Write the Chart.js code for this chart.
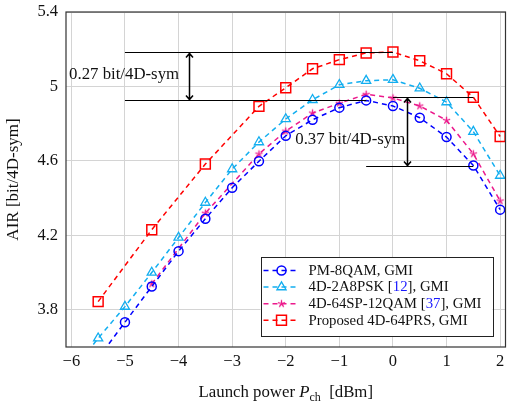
<!DOCTYPE html>
<html><head><meta charset="utf-8">
<script src="https://cdn.jsdelivr.net/npm/chart.js@4/dist/chart.umd.min.js"></script>
<style>html,body{margin:0;padding:0;background:#fff}#wrap{width:514px;height:408px;position:relative}</style>
</head><body><div id="wrap"><canvas id="c" width="514" height="408"></canvas></div>
<script>
// ---- data ----
const xTicks = [-6, -5, -4, -3, -2, -1, 0, 1, 2];
const yTicks = [3.8, 4.2, 4.6, 5, 5.4];

const pmX  = [-5.5, -5, -4.5, -4, -3.5, -3, -2.5, -2, -1.5, -1, -0.5, 0, 0.5, 1, 1.5, 2];
const pmY  = [3.54, 3.733, 3.925, 4.115, 4.289, 4.456, 4.598, 4.735, 4.821, 4.886, 4.925, 4.895, 4.832, 4.728, 4.575, 4.338];

const a8X  = [-6, -5.5, -5, -4.5, -4, -3.5, -3, -2.5, -2, -1.5, -1, -0.5, 0, 0.5, 1, 1.5, 2];
const a8Y  = [3.46, 3.647, 3.817, 4.0, 4.188, 4.376, 4.556, 4.701, 4.825, 4.928, 5.009, 5.031, 5.036, 4.99, 4.916, 4.757, 4.521];

const spX  = [-4.5, -3.5, -2.5, -2, -1.5, -1, -0.5, 0, 0.5, 1, 1.5, 2];
const spY  = [3.939, 4.319, 4.637, 4.76, 4.857, 4.91, 4.958, 4.938, 4.895, 4.818, 4.638, 4.385];

const prsX = [-5.5, -4.5, -3.5, -2.5, -2, -1.5, -1, -0.5, 0, 0.5, 1, 1.5, 2];
const prsY = [3.844, 4.23, 4.583, 4.893, 4.993, 5.095, 5.144, 5.18, 5.185, 5.138, 5.068, 4.942, 4.731];

const seriesLabels = ['PM-8QAM, GMI', '4D-2A8PSK [12], GMI', '4D-64SP-12QAM [37], GMI', 'Proposed 4D-64PRS, GMI'];

// annotations: gap markers (values in data units)
const gapLabels = ['0.27 bit/4D-sym', '0.37 bit/4D-sym'];
const gapTop    = [5.185, 4.942];
const gapBottom = [4.925, 4.575];
const gapArrowX = [-3.8, 0.26];
const gapTopSpan    = [[-5, 0], [0, 1.5]];
const gapBottomSpan = [[-5, -0.5], [-0.5, 1.5]];
const gapTextAt = [[-3.99, 5.062], [0.23, 4.712]];

// ---- styles ----
const SERIF = '"Liberation Serif", "Times New Roman", serif';
const colBlue = '#0000ff', colCyan = '#12aef0', colMag = '#ec1a8c', colRed = '#ff0000';

function starImage(color) {
  const s = 11, c = document.createElement('canvas');
  c.width = s; c.height = s;
  const g = c.getContext('2d');
  g.strokeStyle = color; g.lineWidth = 1.3; g.lineCap = 'butt';
  const r = 3.8, cx = s / 2, cy = s / 2;
  g.beginPath();
  for (let k = 0; k < 5; k++) {
    const a = (90 + 72 * k) * Math.PI / 180;
    g.moveTo(cx, cy);
    g.lineTo(cx + r * Math.cos(a), cy - r * Math.sin(a));
  }
  g.stroke();
  return c;
}
const magStar = starImage(colMag);

function pts(xs, ys) { return xs.map((x, i) => ({x: x, y: ys[i]})); }

const common = {
  fill: false, tension: 0, borderWidth: 1.5, borderDash: [5, 4],
  backgroundColor: 'rgba(0,0,0,0)', clip: 0, pointHoverRadius: 0
};

const datasets = [
  Object.assign({}, common, {label: seriesLabels[0], data: pts(pmX, pmY), borderColor: colBlue,
    pointStyle: 'circle', pointRadius: 4.5, pointBorderWidth: 1.5, pointBorderColor: colBlue, pointBackgroundColor: 'rgba(0,0,0,0)'}),
  Object.assign({}, common, {label: seriesLabels[1], data: pts(a8X, a8Y), borderColor: colCyan,
    pointStyle: 'triangle', pointRadius: 5.3, pointBorderWidth: 1.3, pointBorderColor: colCyan, pointBackgroundColor: 'rgba(0,0,0,0)'}),
  Object.assign({}, common, {label: seriesLabels[2], data: pts(spX, spY), borderColor: colMag,
    pointStyle: magStar, pointRadius: 4, pointBorderWidth: 1.3, pointBorderColor: colMag, pointBackgroundColor: colMag}),
  Object.assign({}, common, {label: seriesLabels[3], data: pts(prsX, prsY), borderColor: colRed,
    pointStyle: 'rect', pointRadius: 7, pointBorderWidth: 1.5, pointBorderColor: colRed, pointBackgroundColor: 'rgba(0,0,0,0)'})
];

function fmtNum(v) { return v < 0 ? '\u2212' + Math.abs(v) : String(v); }

const framePlugin = {
  id: 'frame',
  afterDatasetsDraw(chart) {
    const ctx = chart.ctx, a = chart.chartArea, xs = chart.scales.x, ys = chart.scales.y;
    ctx.save();
    for (let i = 0; i < gapLabels.length; i++) {
      ctx.strokeStyle = '#000'; ctx.lineWidth = 1; ctx.setLineDash([]);
      const yt = Math.round(ys.getPixelForValue(gapTop[i])) + 0.5;
      const yb = Math.round(ys.getPixelForValue(gapBottom[i])) + 0.5;
      ctx.beginPath();
      ctx.moveTo(xs.getPixelForValue(gapTopSpan[i][0]), yt);
      ctx.lineTo(xs.getPixelForValue(gapTopSpan[i][1]), yt);
      ctx.moveTo(xs.getPixelForValue(gapBottomSpan[i][0]), yb);
      ctx.lineTo(xs.getPixelForValue(gapBottomSpan[i][1]), yb);
      ctx.stroke();
      const ax = Math.round(xs.getPixelForValue(gapArrowX[i])) + 0.5;
      ctx.lineWidth = 1.5;
      ctx.beginPath();
      ctx.moveTo(ax, yt + 1); ctx.lineTo(ax, yb - 1);
      ctx.moveTo(ax - 3.5, yt + 5); ctx.lineTo(ax, yt + 1); ctx.lineTo(ax + 3.5, yt + 5);
      ctx.moveTo(ax - 3.5, yb - 5); ctx.lineTo(ax, yb - 1); ctx.lineTo(ax + 3.5, yb - 5);
      ctx.stroke();
      ctx.fillStyle = '#111';
      ctx.font = '16.8px ' + SERIF;
      ctx.textAlign = 'right'; ctx.textBaseline = 'middle';
      ctx.fillText(gapLabels[i], xs.getPixelForValue(gapTextAt[i][0]), ys.getPixelForValue(gapTextAt[i][1]));
    }
    ctx.strokeStyle = '#333'; ctx.lineWidth = 1.2;
    ctx.strokeRect(a.left, a.top, a.right - a.left, a.bottom - a.top);
    ctx.restore();
  },
  afterDraw(chart) {
    const ctx = chart.ctx, a = chart.chartArea;
    ctx.save();
    const parts = [
      ['Launch power ', '16.8px ' + SERIF, 0],
      ['P', 'italic 16.8px ' + SERIF, 0],
      ['ch', '12px ' + SERIF, 3.5],
      ['  [dBm]', '16.8px ' + SERIF, 0]
    ];
    let w = 0;
    parts.forEach(p => { ctx.font = p[1]; w += ctx.measureText(p[0]).width; });
    let x = (a.left + a.right) / 2 - w / 2;
    const yb = 397;
    ctx.fillStyle = '#111'; ctx.textAlign = 'left'; ctx.textBaseline = 'alphabetic';
    parts.forEach(p => { ctx.font = p[1]; ctx.fillText(p[0], x, yb + p[2]); x += ctx.measureText(p[0]).width; });

    // legend
    const bx = a.right - 245, by = a.bottom - 90, bw = 232, bh = 79;
    ctx.fillStyle = '#fff';
    ctx.fillRect(bx, by, bw, bh);
    ctx.strokeStyle = '#222'; ctx.lineWidth = 1;
    ctx.strokeRect(Math.round(bx) + 0.5, Math.round(by) + 0.5, bw, bh);
    chart.data.datasets.forEach((ds, i) => {
      const cy = by + 13.5 + i * 16.6;
      ctx.strokeStyle = ds.borderColor; ctx.lineWidth = 1.5; ctx.setLineDash([5, 4]);
      ctx.beginPath(); ctx.moveTo(bx + 3, cy); ctx.lineTo(bx + 39, cy); ctx.stroke();
      ctx.setLineDash([]);
      ctx.strokeStyle = ds.pointBorderColor; ctx.fillStyle = ds.pointBackgroundColor;
      ctx.lineWidth = ds.pointBorderWidth;
      Chart.helpers.drawPoint(ctx, {pointStyle: ds.pointStyle, radius: ds.pointRadius, borderWidth: ds.pointBorderWidth, rotation: 0}, bx + 21, cy);
      ctx.font = '14.8px ' + SERIF; ctx.textBaseline = 'middle'; ctx.textAlign = 'left';
      let tx = bx + 48;
      ds.label.split(/(\[\d+\])/).forEach(seg => {
        const m = seg.match(/^\[(\d+)\]$/);
        const pieces = m ? [['[', '#111'], [m[1], '#1a1aff'], [']', '#111']] : [[seg, '#111']];
        pieces.forEach(pc => { ctx.fillStyle = pc[1]; ctx.fillText(pc[0], tx, cy + 0.5); tx += ctx.measureText(pc[0]).width; });
      });
    });
    ctx.restore();
  }
};

new Chart(document.getElementById('c'), {
  type: 'line',
  data: {datasets: datasets},
  options: {
    responsive: false, animation: false, devicePixelRatio: 1,
    layout: {padding: {top: 12, right: 6, left: 0, bottom: 0}},
    plugins: {legend: {display: false}, tooltip: {enabled: false}},
    scales: {
      x: {
        type: 'linear', min: -6.1, max: 2.1,
        afterBuildTicks: s => { s.ticks = xTicks.map(v => ({value: v})); },
        afterFit: s => { s.height = 61; s.paddingLeft = 0; s.paddingRight = 0; },
        grid: {color: '#d4d4d4', lineWidth: 1, drawTicks: false},
        border: {display: false},
        ticks: {padding: 5, color: '#111', font: {family: SERIF, size: 16.5}, callback: v => fmtNum(v), maxRotation: 0, autoSkip: false}
      },
      y: {
        type: 'linear', min: 3.6, max: 5.4,
        afterBuildTicks: s => { s.ticks = yTicks.map(v => ({value: v})); },
        afterFit: s => { s.width = 66; s.paddingTop = 0; s.paddingBottom = 0; },
        grid: {color: '#d4d4d4', lineWidth: 1, drawTicks: false},
        border: {display: false},
        ticks: {padding: 8, color: '#111', font: {family: SERIF, size: 16.5}, callback: v => String(v), autoSkip: false},
        title: {display: true, text: 'AIR [bit/4D-sym]', color: '#111', font: {family: SERIF, size: 17}, padding: {top: 3, bottom: 0}}
      }
    }
  },
  plugins: [framePlugin]
});
</script></body></html>
